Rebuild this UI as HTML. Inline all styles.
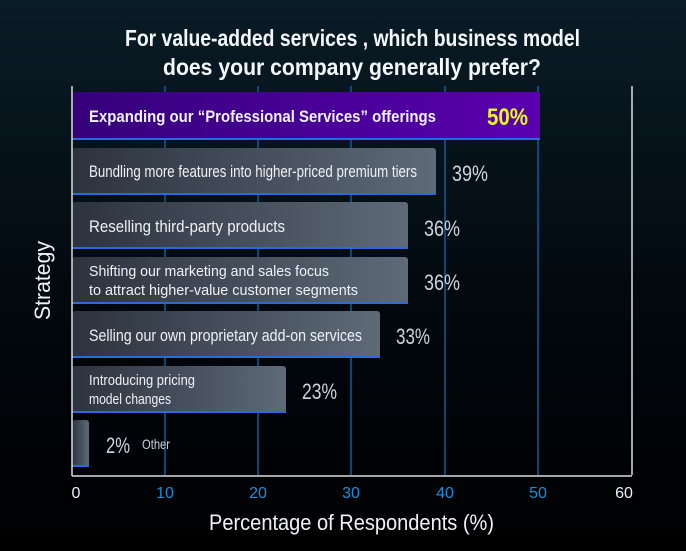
<!DOCTYPE html><html><head><style>
body{margin:0;width:686px;height:551px;overflow:hidden;background:linear-gradient(#0a1c26,#01070c 60%,#000);}
svg{display:block;font-family:"Liberation Sans",sans-serif}
</style></head><body>
<svg width="686" height="551" viewBox="0 0 686 551">
<defs>
<linearGradient id="g" x1="0" x2="1"><stop offset="0" stop-color="#2c333e"/><stop offset="1" stop-color="#5e6a78"/></linearGradient>
<linearGradient id="p" x1="0" x2="1"><stop offset="0" stop-color="#35007a"/><stop offset="1" stop-color="#5a00b0"/></linearGradient>
</defs>
<g lengthAdjust="spacingAndGlyphs">
<text x="125" y="46" textLength="455" lengthAdjust="spacingAndGlyphs" fill="#f4f6ff" font-size="23" font-weight="bold">For value-added services , which business model</text>
<text x="163" y="75" textLength="378" lengthAdjust="spacingAndGlyphs" fill="#f4f6ff" font-size="23" font-weight="bold">does your company generally prefer?</text>
</g>
<g stroke="#0a5f9a" stroke-width="1.5">
<line x1="165" y1="86" x2="165" y2="475"/><line x1="258" y1="86" x2="258" y2="475"/><line x1="351" y1="86" x2="351" y2="475"/><line x1="445" y1="86" x2="445" y2="475"/><line x1="538" y1="86" x2="538" y2="475"/>
</g>
<line x1="632" y1="86" x2="632" y2="475" stroke="#ddd" stroke-width="1.5"/>
<rect x="72" y="92" width="468" height="48" rx="2" fill="url(#p)"/><rect x="72" y="138" width="468" height="2" fill="#2a6ae0"/>
<rect x="72" y="148" width="364" height="47" rx="3" fill="url(#g)"/><rect x="72" y="193" width="364" height="2" fill="#2a6ae0"/>
<rect x="72" y="202" width="336" height="47" rx="3" fill="url(#g)"/><rect x="72" y="247" width="336" height="2" fill="#2a6ae0"/>
<rect x="72" y="257" width="336" height="47" rx="3" fill="url(#g)"/><rect x="72" y="302" width="336" height="2" fill="#2a6ae0"/>
<rect x="72" y="311" width="308" height="47" rx="3" fill="url(#g)"/><rect x="72" y="356" width="308" height="2" fill="#2a6ae0"/>
<rect x="72" y="366" width="214" height="47" rx="3" fill="url(#g)"/><rect x="72" y="411" width="214" height="2" fill="#2a6ae0"/>
<rect x="72" y="420" width="17" height="47" rx="3" fill="url(#g)"/><rect x="72" y="465" width="17" height="2" fill="#2a6ae0"/>
<line x1="72" y1="86" x2="72" y2="476" stroke="#ddd" stroke-width="1.5"/>
<line x1="72" y1="476" x2="632" y2="476" stroke="#ddd" stroke-width="1.5"/>
<g fill="#eef1f8" font-size="17">
<text x="89" y="122" textLength="347" lengthAdjust="spacingAndGlyphs" font-weight="bold">Expanding our “Professional Services” offerings</text>
<text x="89" y="177" textLength="328" lengthAdjust="spacingAndGlyphs">Bundling more features into higher-priced premium tiers</text>
<text x="89" y="232" textLength="196" lengthAdjust="spacingAndGlyphs">Reselling third-party products</text>
<text x="89" y="276" textLength="240" lengthAdjust="spacingAndGlyphs" font-size="15">Shifting our marketing and sales focus</text>
<text x="89" y="295" textLength="269" lengthAdjust="spacingAndGlyphs" font-size="15">to attract higher-value customer segments</text>
<text x="89" y="341" textLength="273" lengthAdjust="spacingAndGlyphs">Selling our own proprietary add-on services</text>
<text x="89" y="385" textLength="106" lengthAdjust="spacingAndGlyphs" font-size="15">Introducing pricing</text>
<text x="89" y="404" textLength="82" lengthAdjust="spacingAndGlyphs" font-size="15">model changes</text>
</g>
<text x="487" y="125" textLength="41" lengthAdjust="spacingAndGlyphs" fill="#e6f51a" font-size="24" font-weight="bold">50%</text>
<g fill="#cfd4dc" font-size="22">
<text x="452" y="181" textLength="36" lengthAdjust="spacingAndGlyphs">39%</text><text x="424" y="236" textLength="36" lengthAdjust="spacingAndGlyphs">36%</text><text x="424" y="290" textLength="36" lengthAdjust="spacingAndGlyphs">36%</text><text x="396" y="344" textLength="34" lengthAdjust="spacingAndGlyphs">33%</text><text x="302" y="399" textLength="35" lengthAdjust="spacingAndGlyphs">23%</text><text x="106" y="453" textLength="24" lengthAdjust="spacingAndGlyphs">2%</text>
</g>
<text x="142" y="449" textLength="28" lengthAdjust="spacingAndGlyphs" fill="#cfd4dc" font-size="14">Other</text>
<g font-size="16" text-anchor="middle">
<text x="76" y="498" fill="#eef">0</text><text x="165" y="498" fill="#1a90e0">10</text><text x="258" y="498" fill="#1a90e0">20</text><text x="351" y="498" fill="#1a90e0">30</text><text x="445" y="498" fill="#1a90e0">40</text><text x="538" y="498" fill="#1a90e0">50</text><text x="624" y="498" fill="#eef">60</text>
</g>
<text x="209" y="530" textLength="285" lengthAdjust="spacingAndGlyphs" fill="#eef1f8" font-size="22">Percentage of Respondents (%)</text>
<text transform="translate(50,320) rotate(-90)" textLength="79" lengthAdjust="spacingAndGlyphs" fill="#eef1f8" font-size="22">Strategy</text>
</svg></body></html>
